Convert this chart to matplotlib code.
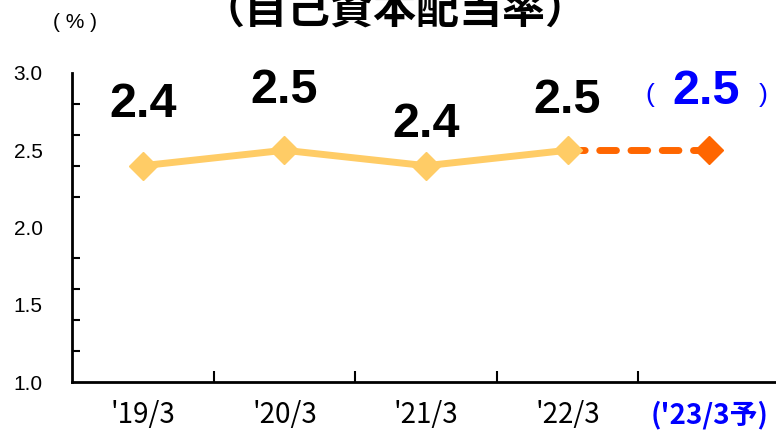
import matplotlib
matplotlib.use("Agg")
import matplotlib.pyplot as plt
import numpy as np

# data
categories = ["'19/3", "'20/3", "'21/3", "'22/3", "('23/3予)"]
actual = [2.4, 2.5, 2.4, 2.5]
forecast = 2.5
label_lift = [61, 60, 41, 50]   # px above the point for each value label

yellow = '#FFCC66'
orange = '#FF6600'
blue = '#0000FF'
jp = ['Noto Sans CJK JP', 'DejaVu Sans']
num_font = ['Liberation Sans', 'DejaVu Sans']

fig = plt.figure(figsize=(7.76, 4.32), dpi=100)
ax = fig.add_axes([72/776, 50/432, 708/776, 309/432])

x = np.arange(len(actual))
xf = len(actual)

# dashed forecast segment first so the yellow marker sits on top
ax.plot([x[-1], xf], [actual[-1], forecast], color=orange, lw=5,
        dashes=(2.4, 2.1), dash_capstyle='round', zorder=2)
ax.plot([xf], [forecast], marker='D', ms=14, color=orange, zorder=3, clip_on=False)
ax.plot(x, actual, color=yellow, lw=5, marker='D', ms=14, zorder=4)

for xi, v, lift in zip(x, actual, label_lift):
    ax.annotate(f'{v:.1f}', (xi, v), xytext=(0, lift), textcoords='offset pixels',
                ha='center', va='center', fontsize=35, fontweight='bold',
                family=num_font, color='black')

# forecast label with brackets
ax.annotate(f'{forecast:.1f}', (xf, forecast), xytext=(-3, 59), textcoords='offset pixels',
            ha='center', va='center', fontsize=35, fontweight='bold',
            family=num_font, color=blue, annotation_clip=False)
ax.annotate('(', (xf, forecast), xytext=(-59, 55), textcoords='offset pixels',
            ha='center', va='center', fontsize=19, family=num_font, color=blue,
            annotation_clip=False)
ax.annotate(')', (xf, forecast), xytext=(54, 55), textcoords='offset pixels',
            ha='center', va='center', fontsize=19, family=num_font, color=blue,
            annotation_clip=False)

ax.set_xlim(-0.5, 4.5)
ax.set_ylim(1.0, 3.0)

# y: labels every 0.5, ticks every 0.2
ax.set_yticks([1.0, 1.5, 2.0, 2.5, 3.0])
ax.set_yticklabels(['1.0', '1.5', '2.0', '2.5', '3.0'], fontsize=15,
                   family=['Liberation Sans'])
ax.set_yticks(np.arange(1.0, 3.01, 0.2), minor=True)
ax.tick_params(axis='y', which='major', length=0, pad=21)
ax.tick_params(axis='y', which='minor', direction='in', length=6, width=1.5)

# x: ticks between categories, labels at centres
ax.set_xticks(np.arange(0.5, 4.5, 1.0))
ax.set_xticklabels([])
ax.set_xticks(np.arange(len(categories)), minor=True)
ax.set_xticklabels(categories, minor=True, fontsize=20, family=jp)
ax.tick_params(axis='x', which='major', direction='in', length=8, width=1.5)
ax.tick_params(axis='x', which='minor', length=0, pad=13)
last = ax.get_xticklabels(minor=True)[-1]
last.set_color(blue)
last.set_fontweight('bold')

for s in ['top', 'right']:
    ax.spines[s].set_visible(False)
for s in ['left', 'bottom']:
    ax.spines[s].set_linewidth(2)

fig.text(395/776, 1 - 10/432, '（自己資本配当率）', ha='center', va='center',
         fontsize=31, fontweight='bold', family=jp)
fig.text(75/776, 1 - 22/432, '( % )', ha='center', va='center',
         fontsize=15, family=num_font)

fig.savefig('out.png', dpi=100)
